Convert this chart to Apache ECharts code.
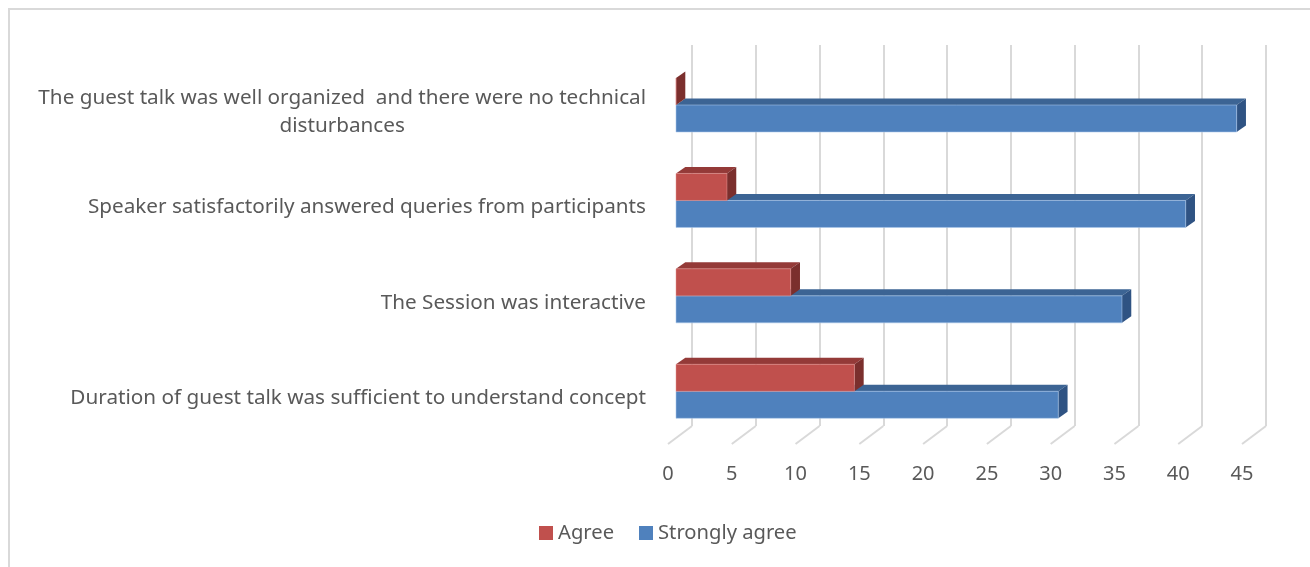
<!DOCTYPE html>
<html>
<head>
<meta charset="utf-8">
<script src="https://cdn.jsdelivr.net/npm/echarts@6/dist/echarts.min.js"></script>
<style>html,body{margin:0;padding:0;background:#fff}#c{width:1310px;height:567px}</style>
</head>
<body>
<div id="c"></div>
<script>
const categories = [
  "The guest talk was well organized  and there were no technical\ndisturbances",
  "Speaker satisfactorily answered queries from participants",
  "The Session was interactive",
  "Duration of guest talk was sufficient to understand concept"
];
const agree = [0, 4, 9, 14];
const stronglyAgree = [44, 40, 35, 30];
const xTicks = [0, 5, 10, 15, 20, 25, 30, 35, 40, 45];
const seriesNames = ["Agree", "Strongly agree"];

const FONT = "Noto Sans";
const TXT = "#595959";
const DEPTH = [9.3, -6.5];

function box3d(colors, upper) {
  return function (params, api) {
    const val = api.value(0), cat = api.value(1);
    const p0 = api.coord([0, cat]);
    const p1 = api.coord([val, cat]);
    const band = api.size([0, 1])[1];
    const h = band * 0.283;
    const yT = upper ? p0[1] - h : p0[1];
    const yB = yT + h;
    const xL = p0[0], xR = p1[0];
    const dx = DEPTH[0], dy = DEPTH[1];
    return {
      type: 'group',
      children: [
        { type: 'polygon', shape: { points: [[xL, yT], [xR, yT], [xR + dx, yT + dy], [xL + dx, yT + dy]] },
          style: { fill: colors.top } },
        { type: 'polygon', shape: { points: [[xR, yT], [xR + dx, yT + dy], [xR + dx, yB + dy], [xR, yB]] },
          style: { fill: colors.side } },
        { type: 'rect', shape: { x: xL, y: yT, width: xR - xL, height: h },
          style: { fill: colors.front, stroke: colors.edge, lineWidth: 0.8 } }
      ]
    };
  };
}

const chart = echarts.init(document.getElementById('c'), null, { renderer: 'canvas' });
chart.setOption({
  animation: false,
  backgroundColor: '#fff',
  graphic: [{
    type: 'rect', silent: true, z: -10,
    shape: { x: 9, y: 9, width: 1400, height: 700 },
    style: { fill: 'none', stroke: '#d9d9d9', lineWidth: 2 }
  }],
  legend: {
    data: seriesNames,
    left: 534, top: 518,
    itemWidth: 14, itemHeight: 14, itemGap: 25,
    icon: 'rect',
    textStyle: { fontFamily: FONT, fontSize: 20.2, color: TXT }
  },
  grid: [
    { left: 676, width: 573.4, top: 57.3, height: 381.7 },   // front plane (bars)
    { left: 692, width: 574, top: 45, height: 381 },          // back plane (gridlines)
    { left: 668, width: 574, top: 45, height: 399 },          // x labels
    { left: 676, width: 573.4, top: 64.3, height: 381.7 }     // category labels
  ],
  xAxis: [
    { gridIndex: 0, type: 'value', min: 0, max: 45, interval: 5, show: false },
    { gridIndex: 1, type: 'value', min: 0, max: 45, interval: 5,
      axisLine: { show: false }, axisTick: { show: false }, axisLabel: { show: false },
      splitLine: { show: true, lineStyle: { color: '#d9d9d9', width: 2 } } },
    { gridIndex: 2, type: 'value', min: 0, max: 45, interval: 5,
      axisLine: { show: false }, axisTick: { show: false }, splitLine: { show: false },
      axisLabel: { margin: 20, fontFamily: FONT, fontSize: 20, color: TXT,
        formatter: v => String(xTicks[Math.round(v / 5)]) } },
    { gridIndex: 3, type: 'value', min: 0, max: 45, show: false }
  ],
  yAxis: [
    { gridIndex: 0, type: 'category', data: categories, inverse: true, show: false },
    { gridIndex: 1, type: 'value', min: 0, max: 1, show: false },
    { gridIndex: 2, type: 'value', min: 0, max: 1, show: false },
    { gridIndex: 3, type: 'category', data: categories, inverse: true,
      axisLine: { show: false }, axisTick: { show: false },
      axisLabel: {
        margin: 30, fontFamily: FONT, fontSize: 20.7, color: TXT, lineHeight: 28, align: 'right',
        formatter: function (v) {
          const parts = v.split('\n');
          if (parts.length === 1) return v;
          return parts[0] + '\n{c|' + parts[1] + '}';
        },
        rich: { c: { align: 'center', fontFamily: FONT, fontSize: 20.7, color: TXT, lineHeight: 28 } }
      } }
  ],
  series: [
    {
      name: 'floor', type: 'custom', xAxisIndex: 1, yAxisIndex: 1, silent: true, z: 1,
      data: xTicks.map(t => [t, 0]),
      renderItem: function (params, api) {
        const p = api.coord([api.value(0), 0]);
        return { type: 'line', shape: { x1: p[0], y1: p[1], x2: p[0] - 24, y2: p[1] + 18 },
          style: { stroke: '#d9d9d9', lineWidth: 2 } };
      }
    },
    {
      name: seriesNames[0], type: 'custom', xAxisIndex: 0, yAxisIndex: 0, z: 4,
      itemStyle: { color: '#c0504d' },
      encode: { x: 0, y: 1 },
      data: agree.map((v, i) => [v, i]),
      renderItem: box3d({ front: '#c0504d', top: '#943a38', side: '#7b2f2d', edge: 'rgba(230,150,148,0.6)' }, true)
    },
    {
      name: seriesNames[1], type: 'custom', xAxisIndex: 0, yAxisIndex: 0, z: 3,
      itemStyle: { color: '#4f81bd' },
      encode: { x: 0, y: 1 },
      data: stronglyAgree.map((v, i) => [v, i]),
      renderItem: box3d({ front: '#4f81bd', top: '#3c6494', side: '#2f5383', edge: 'rgba(170,200,235,0.7)' }, false)
    }
  ]
});
</script>
</body>
</html>
